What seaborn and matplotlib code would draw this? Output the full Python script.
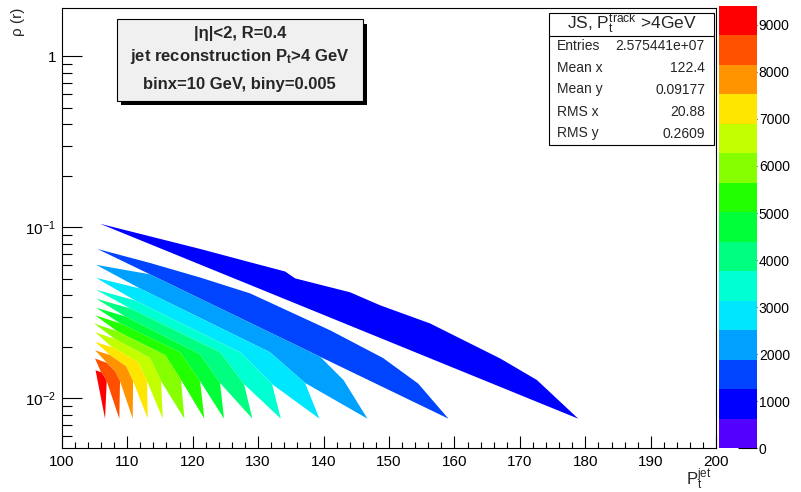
import numpy as np
import matplotlib
matplotlib.use("Agg")
import matplotlib.pyplot as plt
import seaborn as sns
from matplotlib.colors import ListedColormap, BoundaryNorm
from matplotlib.cm import ScalarMappable
from matplotlib.patches import Rectangle
from matplotlib.ticker import FixedLocator, MultipleLocator, LogLocator, NullFormatter

sns.set_theme(style="ticks")
plt.rcParams["font.family"] = ["Liberation Sans", "DejaVu Sans"]
plt.rcParams["mathtext.fontset"] = "custom"
plt.rcParams["mathtext.rm"] = "Liberation Sans"
plt.rcParams["mathtext.it"] = "Liberation Sans"
plt.rcParams["mathtext.bf"] = "Liberation Sans:bold"

# contour palette (15 bands, bottom to top of the colour bar)
band_colors = ["#5400ff", "#0000ff", "#0044ff", "#00a0ff", "#00e6ff",
               "#00ffd2", "#00ff80", "#00ff38", "#22ff00", "#86ff00",
               "#c4ff00", "#ffe600", "#ff9400", "#ff5000", "#ff0000"]
z_max = 9400
cbar_ticks = [0, 1000, 2000, 3000, 4000, 5000, 6000, 7000, 8000, 9000]

# outline of the top band (level 1), left tip -> right tip
s1_upper_x = [105.85, 113.50, 121.14, 128.78, 134.13, 135.66, 144.06, 148.65, 156.29, 166.99, 172.59, 178.91]
s1_upper_y = [0.1050, 0.0886, 0.0748, 0.0625, 0.0552, 0.0503, 0.0417, 0.0350, 0.0274, 0.0171, 0.0128, 0.0076]
# second band (level 2)
s2_upper_x = [105.44, 113.50, 121.14, 128.78, 141.00, 149.10, 154.45, 159.08]
s2_upper_y = [0.0748, 0.0619, 0.0509, 0.0411, 0.0250, 0.0172, 0.0122, 0.0076]

# right tips of all 14 drawn bands
right_x = [178.91, 159.08, 146.71, 139.37, 133.47, 129.13, 124.80, 121.79, 118.74, 115.44, 113.14, 110.85, 108.80, 106.62]
right_y = [0.0076] * 14

# bands 3..14: left tip, shared border with the band above (join, bend, split), knee
left_x = [105.24, 105.24, 105.24, 105.24, 105.24, 105.09, 104.94, 105.09, 105.09, 105.09, 105.09, 105.17]
left_y = [0.0604, 0.0507, 0.0432, 0.0383, 0.0339, 0.0306, 0.0274, 0.0244, 0.0214, 0.0191, 0.0171, 0.0146]
join_x = [113.50, 111.97, 111.20, 110.44, 109.67, 108.91, 108.45, 108.15, 107.69, 107.38, 106.92, 106.01]
join_y = [0.0531, 0.0439, 0.0374, 0.0336, 0.0302, 0.0275, 0.0247, 0.0222, 0.0199, 0.0179, 0.0161, 0.0142]
bend_x = [127.25, 131.83, 127.25, 124.19, 121.14, 118.08, 115.79, 113.50, 111.66, 109.83, 108.15, 106.46]
bend_y = [0.0295, 0.0186, 0.0186, 0.0186, 0.0181, 0.0186, 0.0179, 0.0172, 0.0163, 0.0154, 0.0144, 0.0135]
split_x = [139.48, 137.18, 132.14, 127.86, 124.19, 121.14, 118.23, 115.18, 113.04, 110.90, 108.91, 106.88]
split_y = [0.0175, 0.0123, 0.0121, 0.0121, 0.0123, 0.0126, 0.0128, 0.0126, 0.0126, 0.0126, 0.0126, 0.0126]
knee_x = [143.04, 137.18, 132.14, 127.86, 124.19, 121.14, 118.23, 115.18, 113.04, 110.90, 108.91, 106.88]
knee_y = [0.0128, 0.0123, 0.0121, 0.0121, 0.0123, 0.0126, 0.0128, 0.0126, 0.0126, 0.0126, 0.0126, 0.0126]

stats_names = ["Entries", "Mean x", "Mean y", "RMS x", "RMS y"]
stats_values = ["2.575441e+07", "122.4", "0.09177", "20.88", "0.2609"]
x_ticks = [100, 110, 120, 130, 140, 150, 160, 170, 180, 190, 200]

W, H = 801, 492


def fx(px):
    return px / W


def fy(py):
    return 1 - py / H


def upper_edge(k):
    if k == 0:
        return s1_upper_x, s1_upper_y
    if k == 1:
        return s2_upper_x, s2_upper_y
    j = k - 2
    xs = [left_x[j], join_x[j], bend_x[j], split_x[j], knee_x[j], right_x[k]]
    ys = [left_y[j], join_y[j], bend_y[j], split_y[j], knee_y[j], right_y[k]]
    return xs, ys


def lower_edge(k):
    ux, uy = upper_edge(k)
    if k == 0 or k == 13:
        return [ux[0], right_x[k]], [uy[0], right_y[k]]
    j = k - 1
    xs = [ux[0], join_x[j], bend_x[j], split_x[j], right_x[k]]
    ys = [uy[0], join_y[j], bend_y[j], split_y[j], right_y[k]]
    return xs, ys


fig = plt.figure(figsize=(W / 100, H / 100), dpi=100)
ax = fig.add_axes([fx(61.7), fy(448.3), fx(716.3) - fx(61.7), fy(8) - fy(448.3)])
ax.set_yscale("log")

for k in range(14):
    ux, uy = upper_edge(k)
    lx, ly = lower_edge(k)
    xs = list(ux) + list(lx[::-1][1:-1])
    ys = list(uy) + list(ly[::-1][1:-1])
    ax.fill(xs, ys, color=band_colors[k + 1], lw=0)

ax.set_xlim(100, 200)
ax.set_ylim(0.0051, 1.92)
ax.xaxis.set_major_locator(FixedLocator(x_ticks))
ax.xaxis.set_minor_locator(MultipleLocator(2))
ax.set_xticklabels([str(t) for t in x_ticks])
ax.yaxis.set_major_locator(FixedLocator([0.01, 0.1, 1]))
ax.set_yticklabels([r"$10^{-2}$", r"$10^{-1}$", "1"])
ax.yaxis.set_minor_locator(LogLocator(base=10, subs=np.arange(2, 10)))
ax.yaxis.set_minor_formatter(NullFormatter())
ax.tick_params(axis="both", which="both", direction="in", color="black",
               width=0.8, top=False, right=False, labelcolor="black")
ax.tick_params(axis="x", which="major", length=8.6, labelsize=11, pad=5)
ax.tick_params(axis="x", which="minor", length=4.3)
ax.tick_params(axis="y", which="major", length=14.4, labelsize=11, pad=4)
ax.tick_params(axis="y", which="minor", length=7.2)
for sp in ax.spines.values():
    sp.set_color("black")
    sp.set_linewidth(0.8)
ax.set_xlabel("")
ax.set_ylabel("")

# colour bar
cax = fig.add_axes([fx(719), fy(448.3), fx(756.7) - fx(719), fy(6) - fy(448.3)])
cmap = ListedColormap(band_colors)
norm = BoundaryNorm(np.linspace(0, z_max, len(band_colors) + 1), cmap.N)
cb = fig.colorbar(ScalarMappable(norm=norm, cmap=cmap), cax=cax, ticks=cbar_ticks)
cb.outline.set_visible(False)
cb.ax.minorticks_off()
cax.tick_params(direction="in", length=13.7, width=0.8, color="black",
                labelsize=10, pad=1.5, labelcolor="black")

# axis titles
fig.text(fx(18), fy(22), "\u03c1 (r)", rotation=90, ha="center", va="center", fontsize=11)
fig.text(fx(711), fy(492), r"$\mathrm{P}_{\mathrm{t}}^{\mathrm{jet}}$", ha="right", va="bottom", fontsize=12)

# text box with shadow
bx0, bx1, by0, by1 = 116.7, 362.7, 19.3, 101
fig.patches.append(Rectangle((fx(bx0 + 4.5), fy(by1 + 4.5)), fx(bx1) - fx(bx0), fy(by0) - fy(by1),
                             transform=fig.transFigure, facecolor="black", edgecolor="black", lw=0))
fig.patches.append(Rectangle((fx(bx0), fy(by1)), fx(bx1) - fx(bx0), fy(by0) - fy(by1),
                             transform=fig.transFigure, facecolor="#f0f0f0", edgecolor="black", lw=0.8))
cx = (bx0 + bx1) / 2
fig.text(fx(cx), fy(33), "|\u03b7|<2, R=0.4", ha="center", va="center", fontsize=12, fontweight="bold")
fig.text(fx(cx), fy(57), r"jet reconstruction P$_{\mathbf{t}}$>4 GeV", ha="center", va="center",
         fontsize=12, fontweight="bold")
fig.text(fx(cx), fy(84), "binx=10 GeV, biny=0.005", ha="center", va="center", fontsize=12, fontweight="bold")

# statistics box
sx0, sx1, sy0, sy1 = 549.3, 714.3, 12.7, 145
fig.patches.append(Rectangle((fx(sx0), fy(sy1)), fx(sx1) - fx(sx0), fy(sy0) - fy(sy1),
                             transform=fig.transFigure, facecolor="white", edgecolor="black", lw=0.8))
fig.lines.append(plt.Line2D([fx(sx0), fx(sx1)], [fy(36), fy(36)], transform=fig.transFigure,
                            color="black", lw=0.8))
fig.text(fx((sx0 + sx1) / 2), fy(24), r"JS, $\mathrm{P}_{\mathrm{t}}^{\mathrm{track}}$ >4GeV",
         ha="center", va="center", fontsize=12.5)
for i, (name, val) in enumerate(zip(stats_names, stats_values)):
    yy = 45.5 + 22 * i
    fig.text(fx(557), fy(yy), name, ha="left", va="center", fontsize=10)
    fig.text(fx(705), fy(yy), val, ha="right", va="center", fontsize=10)

fig.savefig("out.png", dpi=100)
